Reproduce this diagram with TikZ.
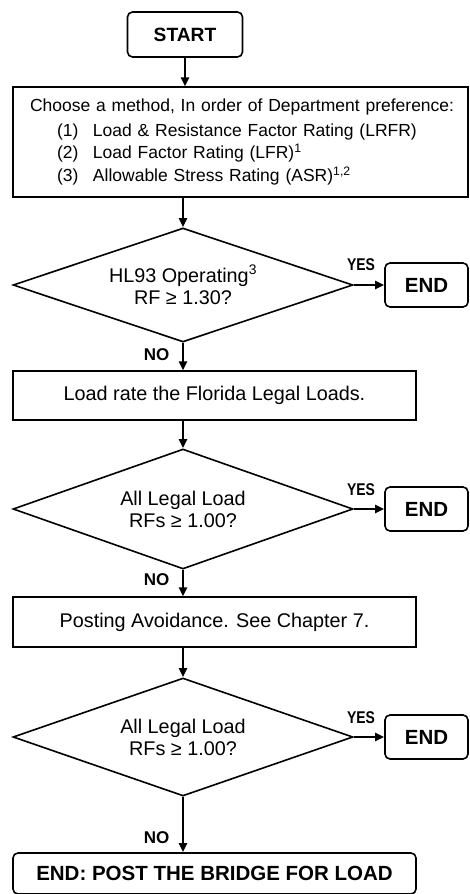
\documentclass[tikz,border=0pt]{standalone}
\usepackage{fontspec}
\setmainfont{Liberation Sans}
\usetikzlibrary{shapes.geometric,arrows.meta}

\begin{document}
\begin{tikzpicture}[x=1pt,y=1pt,yscale=-1,
  box/.style={draw,line width=1.4pt,inner sep=0pt,font=\fontsize{19.8}{24}\selectfont},
  endbox/.style={draw,line width=1.6pt,rounded corners=5pt,inner sep=0pt,font=\fontsize{20.5}{24}\selectfont\bfseries},
  decision/.style={draw,diamond,shape aspect=3,line width=1.6pt,inner sep=0pt,align=center,font=\fontsize{19.8}{22}\selectfont},
  flow/.style={line width=2.5pt,-{Triangle[length=9pt,width=8pt]}},
  answer/.style={font=\fontsize{17}{18}\selectfont\bfseries,inner sep=0pt}]
\path[use as bounding box] (0,0) rectangle (470,894);

%Shape: Start
\node [endbox, minimum width=115, minimum height=45, font=\fontsize{19.2}{22}\selectfont\bfseries] (start) at (185,34.5) {START};
%Shape: Method box
\node [box, minimum width=455, minimum height=110, text width=432, align=left, font=\fontsize{17.5}{22.5}\selectfont] (method) at (240.5,142) {\hspace*{5.5pt}\mbox{Choose a method, In order of Department preference:}\\[2pt]
\hspace*{32.5pt}\makebox[36pt][l]{(1)}Load \& Resistance Factor Rating (LRFR)\\
\hspace*{32.5pt}\makebox[36pt][l]{(2)}Load Factor Rating (LFR)\textsuperscript{1}\\
\hspace*{32.5pt}\makebox[36pt][l]{(3)}Allowable Stress Rating (ASR)\textsuperscript{1,2}};

%Shape: Decision 1
\node [decision, minimum width=340, minimum height=114] (hl93) at (183,285) {HL93 Operating\textsuperscript{3}\\RF ≥ 1.30?};
\node [endbox, minimum width=83, minimum height=44] (end1) at (426.5,285) {END};
%Shape: Legal loads box
\node [box, minimum width=403, minimum height=49] (legal) at (214.5,395.5) {Load rate the Florida Legal Loads.};

%Shape: Decision 2
\node [decision, minimum width=340, minimum height=120] (allrf1) at (183,509) {All Legal Load\\RFs ≥ 1.00?};
\node [endbox, minimum width=83, minimum height=44] (end2) at (426.5,509) {END};
%Shape: Posting avoidance box
\node [box, minimum width=403, minimum height=50] (avoid) at (214.5,622) {Posting Avoidance. See Chapter 7.};

%Shape: Decision 3
\node [decision, minimum width=340, minimum height=118] (allrf2) at (183,737) {All Legal Load\\RFs ≥ 1.00?};
\node [endbox, minimum width=83, minimum height=44] (end3) at (426.5,737) {END};
%Shape: Post the bridge
\node [endbox, minimum width=403, minimum height=41] (post) at (214.5,873.5) {END: POST THE BRIDGE FOR LOAD};

% Text Node
\node [answer] (yes1) at (361,265) {\scalebox{0.82}[1]{YES}};
\node [answer] (yes2) at (361,490) {\scalebox{0.82}[1]{YES}};
\node [answer] (yes3) at (361,718) {\scalebox{0.82}[1]{YES}};
\node [answer] (no1) at (156.5,355) {NO};
\node [answer] (no2) at (156.5,580) {NO};
\node [answer] (no3) at (156.5,838) {NO};

%Straight Lines
\draw [flow] (start.south) -- (start.south |- method.north);
\draw [flow] (hl93.north |- method.south) -- (hl93.north);
\draw [flow] (hl93.south) -- (hl93.south |- legal.north);
\draw [flow] (allrf1.north |- legal.south) -- (allrf1.north);
\draw [flow] (allrf1.south) -- (allrf1.south |- avoid.north);
\draw [flow] (allrf2.north |- avoid.south) -- (allrf2.north);
\draw [flow] (allrf2.south) -- (allrf2.south |- post.north);
\draw [flow] (hl93.east) -- (end1.west);
\draw [flow] (allrf1.east) -- (end2.west);
\draw [flow] (allrf2.east) -- (end3.west);

\end{tikzpicture}
\end{document}
